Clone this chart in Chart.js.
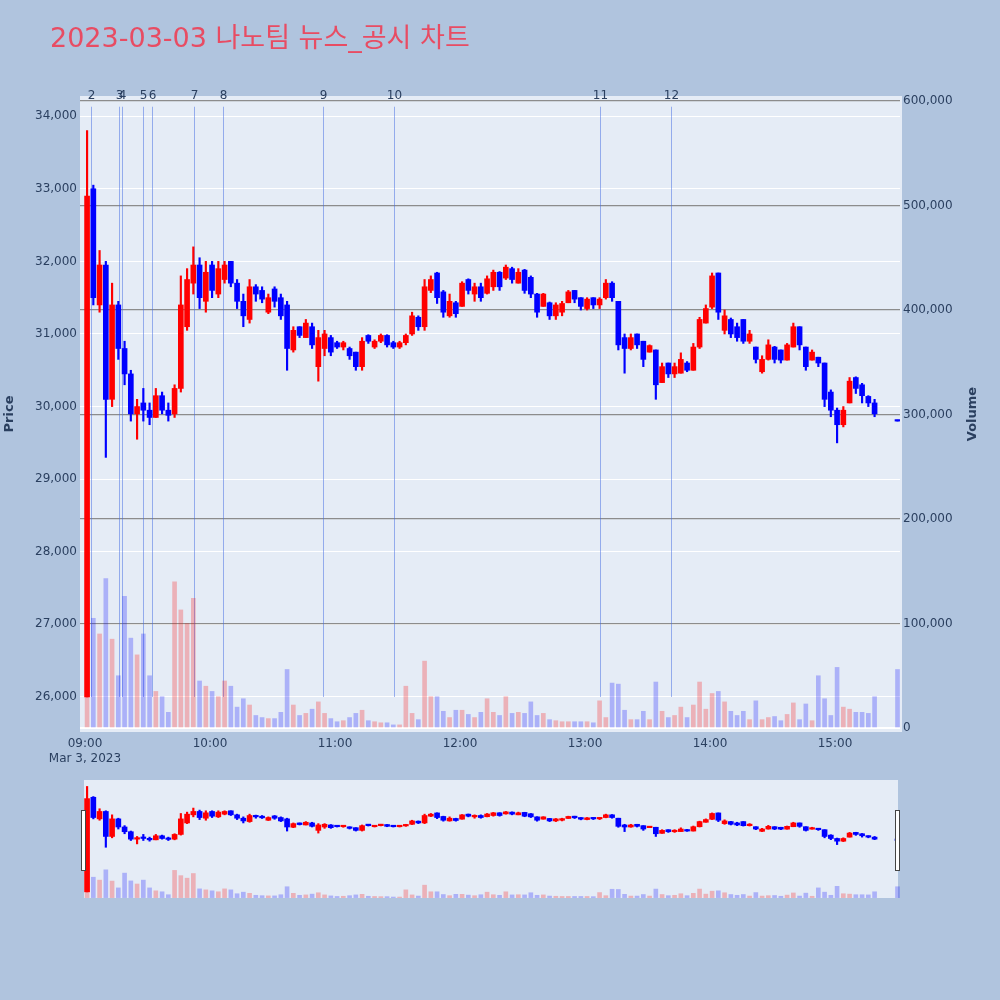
<!DOCTYPE html>
<html lang="ko">
<head>
<meta charset="UTF-8">
<title>2023-03-03 나노팀 뉴스_공시 차트</title>
<script src="https://cdn.jsdelivr.net/npm/chart.js"></script>
<style>
  html, body { margin: 0; padding: 0; background: #B0C4DE; }
  .wrap { position: relative; width: 1000px; height: 1000px; }
  #mainChart { position: absolute; left: 0; top: 0; }
  #sliderChart { position: absolute; left: 0; top: 780px; }
</style>
</head>
<body>
<div class="wrap">
  <canvas id="mainChart" width="1000" height="780"></canvas>
  <canvas id="sliderChart" width="1000" height="120"></canvas>
</div>
<script>
// 3-minute candles (centre minute), last one is the 15:30 closing trade
const times = [
  '09:01','09:04','09:07','09:10','09:13','09:16','09:19','09:22','09:25','09:28',
  '09:31','09:34','09:37','09:40','09:43','09:46','09:49','09:52','09:55','09:58',
  '10:01','10:04','10:07','10:10','10:13','10:16','10:19','10:22','10:25','10:28',
  '10:31','10:34','10:37','10:40','10:43','10:46','10:49','10:52','10:55','10:58',
  '11:01','11:04','11:07','11:10','11:13','11:16','11:19','11:22','11:25','11:28',
  '11:31','11:34','11:37','11:40','11:43','11:46','11:49','11:52','11:55','11:58',
  '12:01','12:04','12:07','12:10','12:13','12:16','12:19','12:22','12:25','12:28',
  '12:31','12:34','12:37','12:40','12:43','12:46','12:49','12:52','12:55','12:58',
  '13:01','13:04','13:07','13:10','13:13','13:16','13:19','13:22','13:25','13:28',
  '13:31','13:34','13:37','13:40','13:43','13:46','13:49','13:52','13:55','13:58',
  '14:01','14:04','14:07','14:10','14:13','14:16','14:19','14:22','14:25','14:28',
  '14:31','14:34','14:37','14:40','14:43','14:46','14:49','14:52','14:55','14:58',
  '15:01','15:04','15:07','15:10','15:13','15:16','15:19','15:30'
];
const openPrices = [
  26000,33000,31400,31950,30100,31400,30800,30450,29900,30050,
  29950,29850,30150,29950,29900,30250,31100,31700,31950,31450,
  31950,31550,31750,32000,31700,31450,31200,31650,31600,31300,
  31620,31500,31400,30780,31100,30950,31100,30550,30800,30950,
  30880,30820,30800,30750,30550,30980,30820,30900,30980,30880,
  30820,30880,31000,31230,31100,31600,31840,31580,31250,31430,
  31380,31750,31550,31650,31560,31650,31850,31770,31900,31700,
  31880,31780,31550,31380,31430,31250,31300,31430,31600,31500,
  31350,31500,31400,31500,31700,31450,30950,30800,31000,30900,
  30750,30780,30330,30600,30450,30460,30600,30500,30820,31150,
  31370,31840,31050,31200,31100,31200,30900,30820,30480,30650,
  30820,30780,30640,30820,31100,30820,30640,30680,30600,30200,
  29950,29750,30050,30400,30300,30140,30050,29800
];
const highPrices = [
  33800,33050,32150,32000,31700,31450,30900,30500,30100,30250,
  30050,30250,30200,30050,30300,31800,31900,32200,32050,32000,
  32000,32000,32000,32000,31750,31550,31750,31680,31650,31550,
  31650,31550,31450,31100,31100,31200,31150,31050,31050,30980,
  30900,30900,30820,30750,30950,30990,30920,31000,30990,30900,
  30900,31000,31300,31250,31750,31800,31850,31600,31550,31450,
  31720,31760,31700,31700,31800,31880,31860,31950,31920,31900,
  31890,31800,31560,31560,31440,31430,31450,31600,31600,31500,
  31500,31500,31500,31750,31720,31450,31000,31000,31000,30900,
  30850,30780,30600,30600,30600,30740,30620,30870,31230,31400,
  31840,31840,31330,31220,31150,31200,31050,30820,30700,30920,
  30830,30780,30870,31150,31100,30820,30780,30680,30600,30230,
  29980,30000,30400,30410,30320,30150,30100,29800
];
const lowPrices = [
  26000,31400,31300,29300,30000,30650,30300,29800,29550,29800,
  29750,29850,29900,29800,29850,30200,31050,31550,31350,31300,
  31500,31500,31700,31650,31350,31100,31150,31450,31430,31280,
  31370,31200,30500,30750,30950,30950,30800,30350,30700,30700,
  30800,30780,30650,30500,30500,30870,30800,30880,30820,30800,
  30800,30850,30980,31050,31050,31570,31420,31230,31230,31230,
  31380,31550,31450,31450,31550,31600,31600,31750,31700,31700,
  31560,31500,31230,31380,31200,31200,31250,31430,31430,31330,
  31330,31350,31350,31480,31450,30780,30460,30780,30800,30550,
  30750,30100,30330,30400,30400,30460,30480,30500,30800,31150,
  31350,31200,31000,30950,30900,30870,30870,30600,30460,30640,
  30600,30600,30640,30820,30780,30500,30640,30550,30000,29860,
  29500,29720,30050,30180,30050,30000,29860,29800
];
const closePrices = [
  32900,31500,31950,30100,31400,30800,30450,29900,30000,29950,
  29850,30150,29950,29880,30250,31400,31750,31950,31500,31850,
  31600,31900,31950,31700,31450,31250,31650,31550,31480,31500,
  31450,31250,30800,31050,30980,31150,30850,30950,31000,30750,
  30820,30880,30700,30550,30900,30900,30900,30980,30850,30820,
  30880,30980,31250,31100,31650,31750,31500,31300,31450,31280,
  31700,31600,31650,31500,31760,31850,31650,31920,31750,31850,
  31600,31550,31300,31550,31250,31400,31420,31580,31480,31380,
  31480,31400,31480,31700,31500,30850,30800,30950,30850,30650,
  30840,30300,30550,30450,30550,30650,30500,30820,31200,31350,
  31800,31300,31250,31000,30950,30900,31000,30650,30650,30850,
  30650,30640,30850,31100,30850,30550,30750,30600,30100,29950,
  29750,29950,30350,30250,30150,30050,29900,29800
];
const volumes = [
  168000,105000,90000,143000,85000,50000,126000,86000,70000,90000,
  50000,35000,30000,15000,140000,113000,100000,124000,45000,40000,
  35000,30000,45000,40000,20000,28000,22000,12000,10000,9000,
  9000,15000,56000,22000,12000,14000,18000,25000,14000,9000,
  6000,7000,10000,14000,17000,7000,6000,5000,5000,3000,
  3000,40000,14000,8000,64000,30000,30000,16000,10000,17000,
  17000,13000,10000,15000,28000,15000,12000,30000,14000,15000,
  14000,25000,12000,14000,8000,7000,6000,6000,6000,6000,
  6000,5000,26000,10000,43000,42000,17000,8000,8000,16000,
  8000,44000,16000,10000,12000,20000,10000,22000,44000,18000,
  33000,35000,25000,16000,12000,16000,8000,26000,8000,10000,
  11000,7000,13000,24000,8000,23000,7000,50000,28000,12000,
  58000,20000,18000,15000,15000,14000,30000,56000
];

const xTickLabels = ['09:00', '10:00', '11:00', '12:00', '13:00', '14:00', '15:00'];
const dateLabel = 'Mar 3, 2023';
const priceTicks = [26000, 27000, 28000, 29000, 30000, 31000, 32000, 33000, 34000];
const volumeTicks = [0, 100000, 200000, 300000, 400000, 500000, 600000];

const newsLabels = ['2', '3', '4', '5', '6', '7', '8', '9', '10', '11', '12'];
const newsTimes = ['09:02:53', '09:16:30', '09:17:36', '09:27:40', '09:32:00', '09:52:30',
                   '10:06:00', '10:54:00', '11:28:30', '13:07:10', '13:41:20'];

const TITLE = '2023-03-03 나노팀 뉴스_공시 차트';
const FONT = '"DejaVu Sans", "Noto Sans CJK KR", sans-serif';
const TEXT = '#2a3f5f';
const UP = '#FF0000', DOWN = '#0000FF';
const UP_VOL = 'rgba(255, 0, 0, 0.25)', DOWN_VOL = 'rgba(0, 0, 255, 0.25)';

const X_MIN = -2.4, X_MAX = 391.2;
const P_MIN = 25545, P_MAX = 34278;
const V_MIN = -1900, V_MAX = 604800;

function toMinutes(t) {
  const p = t.split(':').map(Number);
  return (p[0] - 9) * 60 + p[1] + (p[2] || 0) / 60;
}

const isUp = i => closePrices[i] > openPrices[i];

function makeDatasets() {
  const xs = times.map(toMinutes);
  return [
    {
      type: 'bar', label: 'Volume', yAxisID: 'y2', order: 3, grouped: false,
      data: volumes.map((v, i) => ({ x: xs[i], y: v })),
      backgroundColor: volumes.map((v, i) => isUp(i) ? UP_VOL : DOWN_VOL),
      barThickness: 4
    },
    {
      type: 'bar', label: 'wick', yAxisID: 'y', order: 2, grouped: false,
      data: times.map((t, i) => ({ x: xs[i], y: [lowPrices[i], highPrices[i]] })),
      backgroundColor: times.map((t, i) => isUp(i) ? UP : DOWN),
      barThickness: 1.5, minBarLength: 1
    },
    {
      type: 'bar', label: 'body', yAxisID: 'y', order: 1, grouped: false,
      data: times.map((t, i) => ({ x: xs[i], y: [openPrices[i], closePrices[i]] })),
      backgroundColor: times.map((t, i) => isUp(i) ? UP : DOWN),
      barThickness: 5, minBarLength: 1.5
    }
  ];
}

const fmt = v => Number(v).toLocaleString('en-US');

// plot background, news markers, titles
const mainDecor = {
  id: 'mainDecor',
  beforeDraw(chart) {
    const { ctx, chartArea: a } = chart;
    ctx.save();
    ctx.fillStyle = '#E5ECF6';
    ctx.fillRect(a.left, a.top, a.right - a.left + 2, a.bottom - a.top + 2);
    ctx.restore();
  },
  beforeDatasetsDraw(chart) {
    const { ctx, chartArea: a } = chart;
    const x = chart.scales.x, y = chart.scales.y;
    ctx.save();
    ctx.strokeStyle = 'rgba(65, 105, 225, 0.5)';
    ctx.lineWidth = 1;
    ctx.fillStyle = TEXT;
    ctx.font = '12px ' + FONT;
    ctx.textAlign = 'center';
    ctx.textBaseline = 'middle';
    newsTimes.forEach((t, i) => {
      const px = Math.round(x.getPixelForValue(toMinutes(t))) + 0.5;
      ctx.beginPath();
      ctx.moveTo(px, y.getPixelForValue(34130));
      ctx.lineTo(px, y.getPixelForValue(26000));
      ctx.stroke();
      ctx.fillText(newsLabels[i], px, a.top);
    });
    ctx.restore();
  },
  afterDraw(chart) {
    const { ctx } = chart;
    ctx.save();
    ctx.fillStyle = '#E84C63';
    ctx.font = '27px ' + FONT;
    ctx.textAlign = 'left';
    ctx.textBaseline = 'middle';
    ctx.fillText(TITLE, 50, 40);

    ctx.fillStyle = TEXT;
    ctx.font = 'bold 13px ' + FONT;
    ctx.textAlign = 'center';
    ctx.translate(10, 414);
    ctx.rotate(-Math.PI / 2);
    ctx.fillText('Price', 0, 0);
    ctx.restore();

    ctx.save();
    ctx.fillStyle = TEXT;
    ctx.font = 'bold 13px ' + FONT;
    ctx.textAlign = 'center';
    ctx.textBaseline = 'middle';
    ctx.translate(973, 414);
    ctx.rotate(-Math.PI / 2);
    ctx.fillText('Volume', 0, 0);
    ctx.restore();
  }
};

new Chart(document.getElementById('mainChart'), {
  type: 'bar',
  data: { datasets: makeDatasets() },
  options: {
    responsive: false,
    animation: false,
    devicePixelRatio: 1,
    layout: { padding: { top: 96, left: 0, right: 0, bottom: 0 } },
    plugins: { legend: { display: false }, tooltip: { enabled: false } },
    scales: {
      x: {
        type: 'linear', min: X_MIN, max: X_MAX, offset: false,
        grid: { display: false, drawTicks: false },
        border: { display: false },
        ticks: {
          stepSize: 60, includeBounds: false, autoSkip: false, maxRotation: 0,
          padding: 6, color: TEXT,
          font: { family: FONT, size: 12, lineHeight: 1.25 },
          callback: v => {
            const lab = xTickLabels[Math.round(v / 60)];
            return v === 0 ? [lab, dateLabel] : lab;
          }
        },
        afterBuildTicks: s => { s.ticks = xTickLabels.map(l => ({ value: toMinutes(l) })); },
        afterFit: s => { s.height = 50; }
      },
      y: {
        position: 'left', min: P_MIN, max: P_MAX,
        grid: { color: '#ffffff', lineWidth: 1, drawTicks: false },
        border: { display: false },
        ticks: {
          padding: 3, color: TEXT,
          font: { family: FONT, size: 12 }, callback: fmt
        },
        afterBuildTicks: s => { s.ticks = priceTicks.map(v => ({ value: v })); },
        afterFit: s => { s.width = 80; }
      },
      y2: {
        position: 'right', min: V_MIN, max: V_MAX,
        grid: {
          color: c => c.tick && c.tick.value === 0 ? '#ffffff' : '#8c8c8c',
          lineWidth: c => c.tick && c.tick.value === 0 ? 2 : 1.2,
          drawTicks: false
        },
        border: { display: false },
        ticks: {
          padding: 3, color: TEXT,
          font: { family: FONT, size: 12 }, callback: fmt
        },
        afterBuildTicks: s => { s.ticks = volumeTicks.map(v => ({ value: v })); },
        afterFit: s => { s.width = 100; }
      }
    }
  },
  plugins: [mainDecor]
});

// range slider underneath
const sliderDecor = {
  id: 'sliderDecor',
  beforeDraw(chart) {
    const { ctx } = chart;
    ctx.save();
    ctx.fillStyle = '#E5ECF6';
    ctx.fillRect(84, 0, 814, 118);
    ctx.restore();
  },
  afterDraw(chart) {
    const { ctx } = chart;
    ctx.save();
    ctx.fillStyle = '#ffffff';
    ctx.strokeStyle = '#444444';
    ctx.lineWidth = 1;
    [81.5, 895.5].forEach(x => {
      ctx.fillRect(x, 30.5, 4, 60);
      ctx.strokeRect(x, 30.5, 4, 60);
    });
    ctx.restore();
  }
};

new Chart(document.getElementById('sliderChart'), {
  type: 'bar',
  data: { datasets: makeDatasets() },
  options: {
    responsive: false,
    animation: false,
    devicePixelRatio: 1,
    layout: { padding: { top: 0, left: 80, right: 100, bottom: 2 } },
    plugins: { legend: { display: false }, tooltip: { enabled: false } },
    scales: {
      x: { type: 'linear', display: false, min: X_MIN, max: X_MAX, offset: false },
      y: { display: false, min: P_MIN, max: P_MAX },
      y2: { display: false, min: V_MIN, max: V_MAX }
    }
  },
  plugins: [sliderDecor]
});
</script>
</body>
</html>
